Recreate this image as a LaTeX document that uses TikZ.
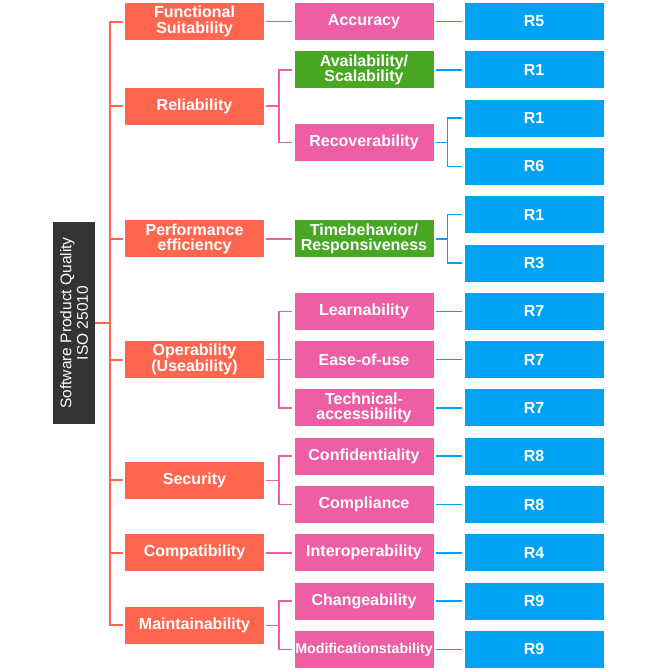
\documentclass[tikz,border=0pt]{standalone}
\usepackage{fontspec}
\setmainfont{Liberation Sans}
\definecolor{rootgray}{RGB}{51,51,51}
\definecolor{charorange}{RGB}{255,102,80}
\definecolor{subpink}{RGB}{237,94,165}
\definecolor{subgreen}{RGB}{72,168,36}
\definecolor{reqblue}{RGB}{0,163,243}

\tikzset{
  box/.style={fill=#1, text=white, font=\bfseries\fontsize{16}{15.5}\selectfont, align=center,
    minimum width=139pt, minimum height=37pt, inner sep=0pt},
  charbox/.style={box=charorange},
  pinkbox/.style={box=subpink},
  greenbox/.style={box=subgreen},
  reqbox/.style={box=reqblue},
  rootbox/.style={fill=rootgray, text=white, font=\fontsize{15.5}{16.5}\selectfont, align=center,
    rotate=90, minimum width=202pt, minimum height=42pt, inner sep=0pt},
  orline/.style={draw=charorange, line width=2pt},
  pkline/.style={draw=subpink, line width=1.5pt},
  blline/.style={draw=reqblue, line width=1.5pt}
}

\begin{document}
\begin{tikzpicture}[x=1pt,y=-1pt]
  \useasboundingbox (0,0) rectangle (657,670);

  \node[rootbox] (root) at (74,323) {Software Product Quality\\ISO 25010};

  \node[charbox] (func)   at (194.5,21.5)  {Functional\\Suitability};
  \node[charbox] (rel)    at (194.5,106)   {Reliability};
  \node[charbox] (perf)   at (194.5,238.9) {Performance\\efficiency};
  \node[charbox] (oper)   at (194.5,359.6) {Operability\\(Useability)};
  \node[charbox] (sec)    at (194.5,480.4) {Security};
  \node[charbox] (compat) at (194.5,552.8) {Compatibility};
  \node[charbox] (maint)  at (194.5,625.3) {Maintainability};

  \node[pinkbox]  (acc)     at (364,21.5)  {Accuracy};
  \node[greenbox] (avail)   at (364,69.8)  {Availability/\\Scalability};
  \node[pinkbox]  (recov)   at (364,142.3) {Recoverability};
  \node[greenbox] (timeb)   at (364,238.9) {Timebehavior/\\Responsiveness};
  \node[pinkbox]  (learn)   at (364,311.3) {Learnability};
  \node[pinkbox]  (ease)    at (364,359.6) {Ease-of-use};
  \node[pinkbox]  (tech)    at (364,407.9) {Technical-\\accessibility};
  \node[pinkbox]  (conf)    at (364,456.2) {Confidentiality};
  \node[pinkbox]  (compl)   at (364,504.5) {Compliance};
  \node[pinkbox]  (interop) at (364,552.8) {Interoperability};
  \node[pinkbox]  (change)  at (364,601.1) {Changeability};
  \node[pinkbox, font=\bfseries\fontsize{14.2}{15}\selectfont] (modif) at (364,649.4) {Modificationstability};

  \node[reqbox] (racc)    at (534,21.5)  {R5};
  \node[reqbox] (ravail)  at (534,69.8)  {R1};
  \node[reqbox] (rrecova) at (534,118.1) {R1};
  \node[reqbox] (rrecovb) at (534,166.4) {R6};
  \node[reqbox] (rtimea)  at (534,214.7) {R1};
  \node[reqbox] (rtimeb)  at (534,263)   {R3};
  \node[reqbox] (rlearn)  at (534,311.3) {R7};
  \node[reqbox] (rease)   at (534,359.6) {R7};
  \node[reqbox] (rtech)   at (534,407.9) {R7};
  \node[reqbox] (rconf)   at (534,456.2) {R8};
  \node[reqbox] (rcompl)  at (534,504.5) {R8};
  \node[reqbox] (rinter)  at (534,552.8) {R4};
  \node[reqbox] (rchange) at (534,601.1) {R9};
  \node[reqbox] (rmodif)  at (534,649.4) {R9};

  \draw[orline] (root.south) -- ++(15,0) |- ([xshift=-2pt]func.west);
  \draw[orline] (root.south) -- ++(15,0) |- ([xshift=-2pt]rel.west);
  \draw[orline] (root.south) -- ++(15,0) |- ([xshift=-2pt]perf.west);
  \draw[orline] (root.south) -- ++(15,0) |- ([xshift=-2pt]oper.west);
  \draw[orline] (root.south) -- ++(15,0) |- ([xshift=-2pt]sec.west);
  \draw[orline] (root.south) -- ++(15,0) |- ([xshift=-2pt]compat.west);
  \draw[orline] (root.south) -- ++(15,0) |- ([xshift=-2pt]maint.west);

  \draw[pkline] ([xshift=2pt]func.east) -- ++(13,0) |- ([xshift=-2pt]acc.west);
  \draw[pkline] ([xshift=2pt]rel.east) -- ++(13,0) |- ([xshift=-2pt]avail.west);
  \draw[pkline] ([xshift=2pt]rel.east) -- ++(13,0) |- ([xshift=-2pt]recov.west);
  \draw[pkline] ([xshift=2pt]perf.east) -- ++(13,0) |- ([xshift=-2pt]timeb.west);
  \draw[pkline] ([xshift=2pt]oper.east) -- ++(13,0) |- ([xshift=-2pt]learn.west);
  \draw[pkline] ([xshift=2pt]oper.east) -- ++(13,0) |- ([xshift=-2pt]ease.west);
  \draw[pkline] ([xshift=2pt]oper.east) -- ++(13,0) |- ([xshift=-2pt]tech.west);
  \draw[pkline] ([xshift=2pt]sec.east) -- ++(13,0) |- ([xshift=-2pt]conf.west);
  \draw[pkline] ([xshift=2pt]sec.east) -- ++(13,0) |- ([xshift=-2pt]compl.west);
  \draw[pkline] ([xshift=2pt]compat.east) -- ++(13,0) |- ([xshift=-2pt]interop.west);
  \draw[pkline] ([xshift=2pt]maint.east) -- ++(13,0) |- ([xshift=-2pt]change.west);
  \draw[pkline] ([xshift=2pt]maint.east) -- ++(13,0) |- ([xshift=-2pt]modif.west);

  \draw[blline] ([xshift=2pt]acc.east) -- ++(12,0) |- ([xshift=-2pt]racc.west);
  \draw[blline] ([xshift=2pt]avail.east) -- ++(12,0) |- ([xshift=-2pt]ravail.west);
  \draw[blline] ([xshift=2pt]recov.east) -- ++(12,0) |- ([xshift=-2pt]rrecova.west);
  \draw[blline] ([xshift=2pt]recov.east) -- ++(12,0) |- ([xshift=-2pt]rrecovb.west);
  \draw[blline] ([xshift=2pt]timeb.east) -- ++(12,0) |- ([xshift=-2pt]rtimea.west);
  \draw[blline] ([xshift=2pt]timeb.east) -- ++(12,0) |- ([xshift=-2pt]rtimeb.west);
  \draw[blline] ([xshift=2pt]learn.east) -- ++(12,0) |- ([xshift=-2pt]rlearn.west);
  \draw[blline] ([xshift=2pt]ease.east) -- ++(12,0) |- ([xshift=-2pt]rease.west);
  \draw[blline] ([xshift=2pt]tech.east) -- ++(12,0) |- ([xshift=-2pt]rtech.west);
  \draw[blline] ([xshift=2pt]conf.east) -- ++(12,0) |- ([xshift=-2pt]rconf.west);
  \draw[blline] ([xshift=2pt]compl.east) -- ++(12,0) |- ([xshift=-2pt]rcompl.west);
  \draw[blline] ([xshift=2pt]interop.east) -- ++(12,0) |- ([xshift=-2pt]rinter.west);
  \draw[blline] ([xshift=2pt]change.east) -- ++(12,0) |- ([xshift=-2pt]rchange.west);
  \draw[blline] ([xshift=2pt]modif.east) -- ++(12,0) |- ([xshift=-2pt]rmodif.west);
\end{tikzpicture}
\end{document}
